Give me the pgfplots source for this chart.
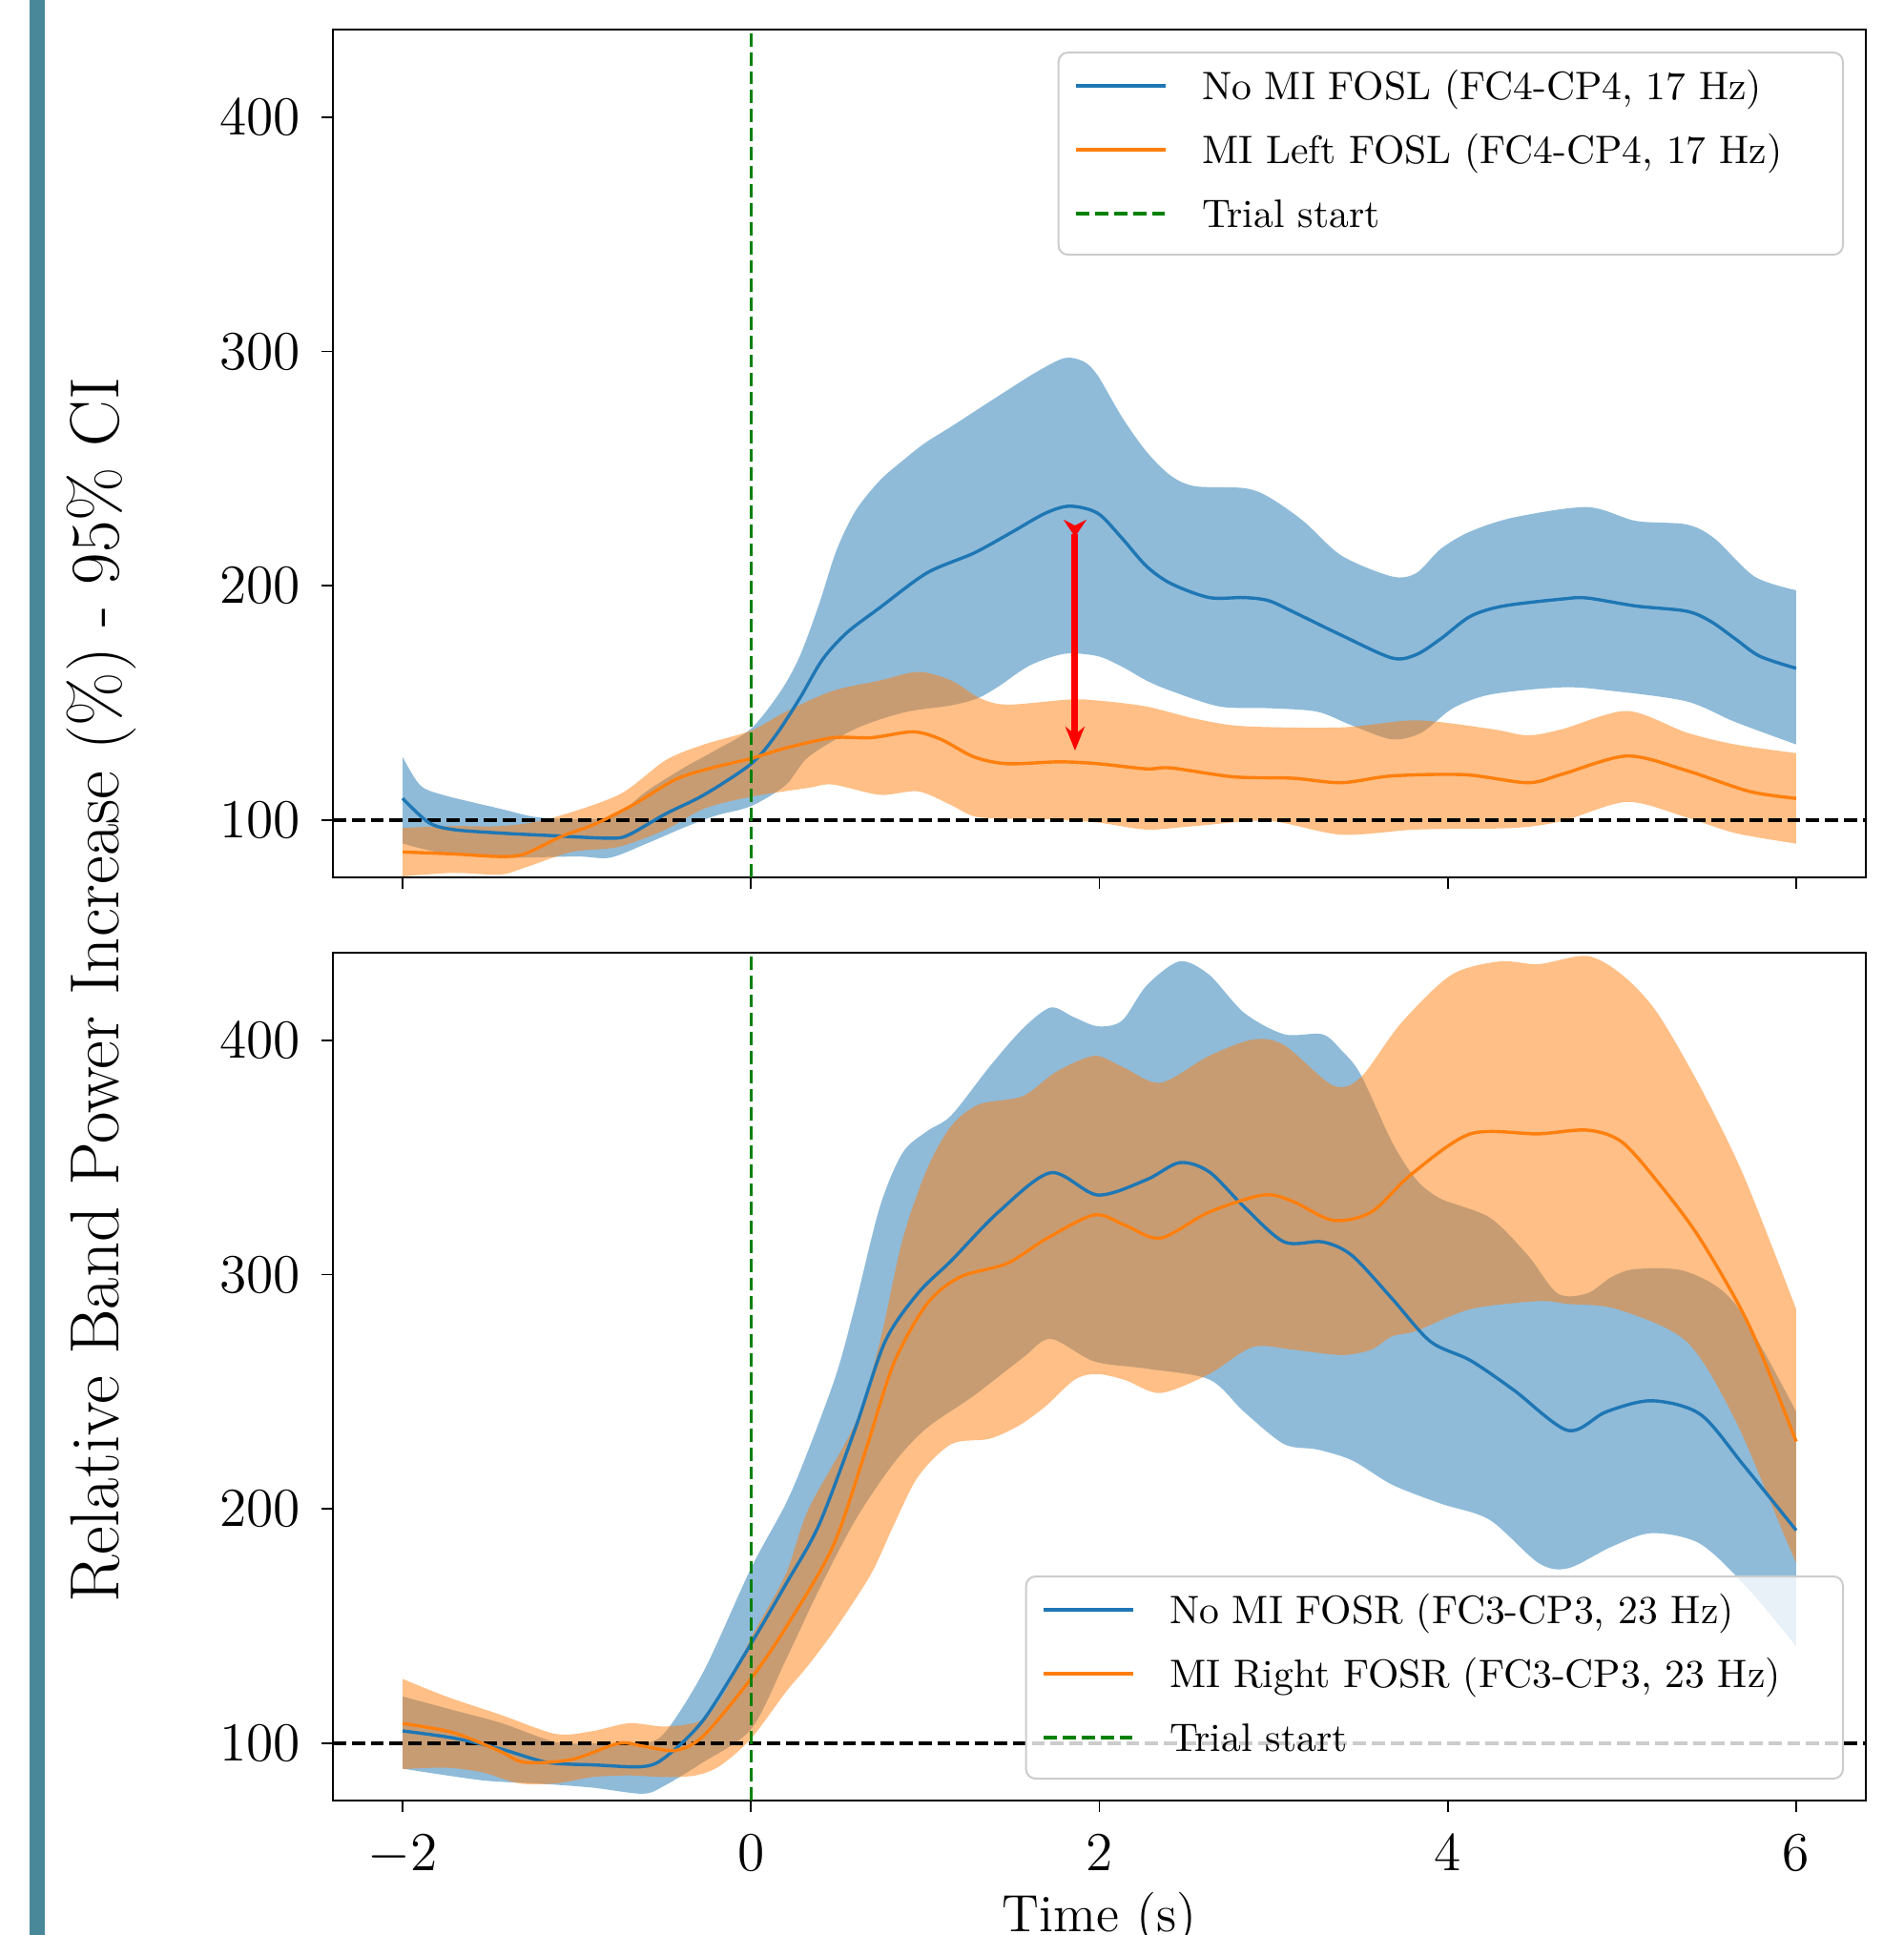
\documentclass[border=0pt]{standalone}
\usepackage{pgfplots}
\pgfplotsset{compat=1.18}
\usepgfplotslibrary{fillbetween}
\usetikzlibrary{arrows.meta}

\definecolor{tabblue}{RGB}{31,119,180}
\definecolor{taborange}{RGB}{255,127,14}
\definecolor{mplgreen}{RGB}{0,128,0}
\definecolor{barteal}{RGB}{72,136,152}

\pgfplotsset{
  panel/.style={
    scale only axis, width=401.75pt, height=222.25pt,
    xmin=-2.4, xmax=6.4, ymin=75.6, ymax=437.4,
    xtick={-2,0,2,4,6}, ytick={100,200,300,400},
    tick pos=left, tick align=outside,
    major tick length=2.9pt,
    major tick style={black, line width=0.45pt},
    axis line style={line width=0.45pt},
    ticklabel style={font=\fontsize{13.75}{16}\selectfont},
    yticklabel style={inner sep=0pt, anchor=east, xshift=-5.35pt},
    xticklabel style={inner sep=0pt, anchor=north, yshift=-5.9pt},
    legend cell align=left,
    legend image code/.code={
      \draw[#1] (0pt,1pt) -- (23.5pt,1pt);
      \path (32.5pt,1pt);
    },
  },
  leg/.style={
    draw=black!20, line width=0.5pt, fill=white, fill opacity=0.8, text opacity=1,
    rounded corners=2.5pt,
    font=\fontsize{10.4}{12}\selectfont,
    inner xsep=4.25pt, inner ysep=4.75pt, row sep=6.75pt,
    nodes={inner sep=0pt, text width=#1, align=left, text height=7.5pt, text depth=2.5pt},
  },
  band/.style={draw=none, smooth, forget plot},
  mean/.style={line width=0.85pt, smooth},
}

\begin{document}
\begin{tikzpicture}

\fill[barteal] (7.75pt,0pt) rectangle (11.75pt,507.25pt);

% top panel: FOSL, FC4-CP4, 17 Hz
\begin{axis}[panel, at={(87.25pt,277.25pt)}, anchor=south west,
  xticklabels={},
  legend style={leg=163.75pt, at={(rel axis cs:0.9857,0.974)}, anchor=north east}]
\addplot[band, name path=tbu] coordinates {
(-2,127) (-1.90,115) (-1.77,110.8) (-1.44,104.9) (-1.22,101.2) (-0.90,100.4) (-0.76,102.7)
(-0.60,112.3) (-0.38,122.6) (-0.2,130) (0,139) (0.17,155) (0.28,170) (0.39,192) (0.49,215)
(0.60,232) (0.74,245) (0.88,254) (1.0,261) (1.15,268) (1.42,281) (1.64,291.3) (1.80,297.2)
(1.91,295.7) (1.99,289.8) (2.13,272) (2.27,257.3) (2.41,247) (2.55,242.5) (2.83,241.7)
(2.97,238) (3.17,227.7) (3.39,212.9) (3.68,204) (3.82,205.5) (3.96,215.8) (4.13,223.2)
(4.38,229.2) (4.80,233.6) (5.08,227.7) (5.37,226.2) (5.53,220.3) (5.76,204) (6,198.1)};
\addplot[band, name path=tbl] coordinates {
(-2,90) (-1.77,86) (-1.44,84) (-1.0,84.5) (-0.81,84) (-0.6,90) (-0.38,97) (-0.2,102) (0,106)
(0.2,115) (0.33,127) (0.6,139) (0.88,146) (1.15,149) (1.3,152) (1.42,157) (1.6,166) (1.8,171)
(1.99,170) (2.13,165.5) (2.27,159.6) (2.41,155.2) (2.69,148.5) (2.97,147.8) (3.25,146.3)
(3.45,140.4) (3.68,134.5) (3.85,137.4) (4.03,147.8) (4.25,153.7) (4.66,156.7) (4.94,155.2)
(5.37,150.7) (5.65,141.9) (6,132.3)};
\addplot[fill=tabblue, fill opacity=0.5, draw=none, forget plot] fill between[of=tbu and tbl];
\addplot[band, name path=tou] coordinates {
(-2,96.7) (-1.71,97.5) (-1.44,97.5) (-1.17,100.4) (-0.76,110.8) (-0.49,125.6) (-0.27,132.3)
(0,138.2) (0.20,146.3) (0.47,155.2) (0.74,159.6) (0.96,163.3) (1.15,159.6) (1.31,152.2)
(1.47,149.3) (1.83,151.5) (2.0,151) (2.27,148.5) (2.55,143.3) (2.83,140.1) (3.39,139.6)
(3.82,142.6) (4.25,138.9) (4.46,136.2) (4.66,138.9) (5.03,146.6) (5.37,137.4) (5.65,132.3)
(6,128.6)};
\addplot[band, name path=tol] coordinates {
(-2,76) (-1.71,77.5) (-1.44,76.8) (-1.30,79.7) (-1.03,86.4) (-0.76,88.6) (-0.49,96)
(-0.27,104.9) (0,110) (0.33,113.8) (0.47,115.2) (0.74,110.8) (0.96,112.3) (1.15,106.4)
(1.31,101.2) (1.69,100.4) (1.99,99) (2.27,96) (2.55,97.5) (2.97,99.7) (3.39,93.8) (3.82,96)
(4.38,96.7) (4.66,99.7) (5.03,107.8) (5.37,101.2) (5.65,94.5) (6,90)};
\addplot[fill=taborange, fill opacity=0.5, draw=none, forget plot] fill between[of=tou and tol];
\addplot[black, line width=0.85pt, dash pattern=on 3.45pt off 1.5pt, forget plot]
  coordinates {(-2.4,100) (6.4,100)};
\addplot[mean, tabblue] coordinates {
(-2,109.3) (-1.85,99) (-1.71,96) (-1.44,94.5) (-1.17,93.5) (-0.81,92.3) (-0.70,93.8)
(-0.49,102.7) (-0.27,110.8) (0,124) (0.14,136) (0.28,152) (0.41,168.5) (0.55,180) (0.74,190.7)
(1.01,205.5) (1.28,214) (1.50,223) (1.69,231) (1.83,234) (1.99,231) (2.13,220.3) (2.27,208.4)
(2.41,201) (2.63,195) (2.83,195) (2.97,193.7) (3.11,189) (3.39,178.9) (3.68,169.2) (3.82,170.7)
(3.96,177.4) (4.13,187) (4.32,191.4) (4.66,194.4) (4.80,194.8) (5.08,191.4) (5.37,189.2)
(5.51,184.8) (5.65,177.4) (5.79,170) (6,164.8)};
\addlegendentry{No MI FOSL (FC4-CP4, 17 Hz)}
\addplot[mean, taborange] coordinates {
(-2,86.4) (-1.71,85.6) (-1.44,84.5) (-1.30,85.6) (-1.09,93) (-0.90,98.2) (-0.68,106.4)
(-0.43,117.5) (-0.21,122.6) (0,126.3) (0.20,130.8) (0.47,135.2) (0.69,135.2) (0.93,137.7)
(1.09,134.5) (1.28,127) (1.47,124.1) (1.77,124.9) (1.99,124.1) (2.27,121.9) (2.41,122.3)
(2.77,118.5) (3.11,117.9) (3.39,116) (3.68,118.9) (4.1,119.4) (4.46,116) (4.66,119.7)
(5.03,127.4) (5.37,121.2) (5.73,112.3) (6,109.3)};
\addlegendentry{MI Left FOSL (FC4-CP4, 17 Hz)}
\addplot[mplgreen, line width=0.85pt, dash pattern=on 3.45pt off 1.5pt]
  coordinates {(0,75.6) (0,437.4)};
\addlegendentry{Trial start}
\draw[red, line width=1.75pt,
  {Stealth[reversed, length=4.5pt, width=6pt, inset=1.5pt]}-{Stealth[length=6.25pt, width=5pt]}]
  (axis cs:1.86,228.2) -- (axis cs:1.86,129.7);
\end{axis}

% bottom panel: FOSR, FC3-CP3, 23 Hz
\begin{axis}[panel, at={(87.25pt,35.25pt)}, anchor=south west,
  xlabel={Time (s)},
  xlabel style={font=\fontsize{13.75}{16}\selectfont, at={(rel axis cs:0.5,0)},
    anchor=north, inner sep=0pt, yshift=-23.9pt},
  legend style={leg=172.25pt, at={(rel axis cs:0.9857,0.0247)}, anchor=south east}]
\addplot[band, name path=bbu] coordinates {
(-2,120) (-1.7,114) (-1.43,108.6) (-1.12,100.5) (-0.9,100) (-0.62,100) (-0.49,105)
(-0.27,131) (0,174.7) (0.20,202.3) (0.33,225.3) (0.49,257.6) (0.60,287.5) (0.74,329)
(0.87,352) (1.01,361.2) (1.15,368) (1.37,388.8) (1.56,405) (1.72,414) (1.85,410) (1.99,406)
(2.13,408.4) (2.27,423.3) (2.46,433.7) (2.63,428) (2.83,411.8) (3.06,402.6) (3.28,402.6)
(3.39,395.7) (3.50,385.4) (3.68,356.6) (3.82,340.5) (3.96,332.4) (4.24,324.4) (4.46,308.2)
(4.63,292) (4.80,292) (4.94,299) (5.08,302.4) (5.37,301.3) (5.65,287.5) (6,241.5)};
\addplot[band, name path=bbl] coordinates {
(-2,89.2) (-1.54,84.2) (-1.23,82.9) (-0.91,81.1) (-0.62,78.5) (-0.49,82.2) (-0.28,91.7)
(0,106) (0.20,135.6) (0.39,165.5) (0.60,195.4) (0.82,219.6) (1.01,234.6) (1.28,248.4)
(1.56,264.5) (1.72,272.6) (1.97,263) (2.27,259.9) (2.63,255.3) (2.83,241.5) (3.06,227.7)
(3.25,225.4) (3.45,220.8) (3.68,210.4) (3.96,202.3) (4.24,195.4) (4.52,177) (4.69,174.7)
(4.94,183.9) (5.17,189.7) (5.45,185.1) (5.73,165.5) (6,141.4)};
\addplot[fill=tabblue, fill opacity=0.5, draw=none, forget plot] fill between[of=bbu and bbl];
\addplot[band, name path=bou] coordinates {
(-2,127.5) (-1.75,120) (-1.43,112) (-1.12,104) (-0.91,105.2) (-0.70,108.6) (-0.49,107.2)
(-0.28,110) (-0.15,122) (0,145) (0.20,172.4) (0.33,200) (0.60,236.9) (0.74,271.5) (0.87,315)
(1.01,345) (1.15,363.5) (1.31,372.7) (1.56,376.2) (1.75,386.5) (1.97,393.4) (2.13,388.8)
(2.35,381.9) (2.63,393.4) (2.88,400.3) (3.06,398) (3.34,380.8) (3.50,384.2) (3.73,407.2)
(4.02,427.9) (4.30,433.7) (4.52,432.5) (4.80,436) (5.0,428) (5.2,412) (5.45,380) (5.7,342)
(6,285.3)};
\addplot[band, name path=bol] coordinates {
(-2,89) (-1.75,89.6) (-1.54,87.6) (-1.33,82.9) (-1.12,82.9) (-0.91,85.6) (-0.70,86.3)
(-0.49,85.6) (-0.32,86.3) (-0.18,90.3) (0,102) (0.20,121.9) (0.33,133.4) (0.49,149.4)
(0.69,172.4) (0.82,193.2) (0.96,213.9) (1.15,227.7) (1.37,230) (1.54,235.7) (1.69,243.8)
(1.86,255.3) (1.99,257.6) (2.15,255) (2.35,249.5) (2.63,257.6) (2.88,269.1) (3.11,268)
(3.39,265.7) (3.56,268) (3.68,273.7) (3.82,276) (4.13,285.3) (4.52,288.7) (4.69,287.5)
(4.97,285.3) (5.37,271.5) (5.65,238) (5.93,189) (6,177)};
\addplot[fill=taborange, fill opacity=0.5, draw=none, forget plot] fill between[of=bou and bol];
\addplot[black, line width=0.85pt, dash pattern=on 3.45pt off 1.5pt, forget plot]
  coordinates {(-2.4,100) (6.4,100)};
\addplot[mean, tabblue] coordinates {
(-2,105.3) (-1.71,102.3) (-1.44,97.7) (-1.17,91.9) (-0.90,90.8) (-0.62,90.1) (-0.49,94.2)
(-0.27,110.3) (0,142.5) (0.20,167.9) (0.39,193.2) (0.60,234.6) (0.77,271.5) (0.96,292.2)
(1.15,306) (1.42,326.7) (1.72,343.5) (1.99,334) (2.27,340.5) (2.46,347.8) (2.63,343.9)
(2.83,329) (3.06,314) (3.28,314) (3.45,308.2) (3.68,289.8) (3.90,271.5) (4.13,263.4)
(4.38,250.7) (4.69,233.5) (4.91,241.5) (5.17,246.2) (5.45,240.4) (5.70,218.5) (6,190.9)};
\addlegendentry{No MI FOSR (FC3-CP3, 23 Hz)}
\addplot[mean, taborange] coordinates {
(-2,108.5) (-1.71,104.6) (-1.44,96.6) (-1.30,91.9) (-1.03,93.1) (-0.76,100) (-0.62,98.8)
(-0.43,97) (-0.27,103.4) (0,127.6) (0.20,149.4) (0.47,184) (0.66,225.4) (0.82,262.2)
(1.01,287.5) (1.20,299) (1.47,304.8) (1.69,315.1) (1.97,325.5) (2.15,321) (2.35,315.6)
(2.63,326.7) (2.94,334) (3.11,331.3) (3.34,323.2) (3.56,326.7) (3.79,342.8) (4.13,360.1)
(4.52,360.1) (4.80,361.7) (5.00,356.6) (5.22,338.2) (5.45,315.1) (5.73,278.3) (6,228.8)};
\addlegendentry{MI Right FOSR (FC3-CP3, 23 Hz)}
\addplot[mplgreen, line width=0.85pt, dash pattern=on 3.45pt off 1.5pt]
  coordinates {(0,75.6) (0,437.4)};
\addlegendentry{Trial start}
\end{axis}

\node[rotate=90, inner sep=0pt, font=\fontsize{18.2}{21}\selectfont]
  at (26.6pt,247.75pt) {Relative Band Power Increase (\%) - 95\% CI};

\pgfresetboundingbox
\useasboundingbox (0pt,0pt) rectangle (498.75pt,507.25pt);
\end{tikzpicture}
\end{document}
